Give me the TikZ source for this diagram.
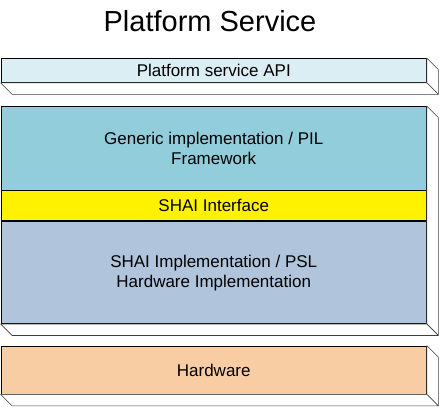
\documentclass[tikz,border=0pt]{standalone}
\usepackage{fontspec}
\setmainfont{Liberation Sans}
\usetikzlibrary{positioning}
\definecolor{apiblue}{RGB}{218,238,243}
\definecolor{genblue}{RGB}{146,205,220}
\definecolor{implblue}{RGB}{176,196,220}
\definecolor{hwpeach}{RGB}{249,205,164}
\tikzset{
  layer/.style={draw=black, line width=0.8pt, minimum width=425.5pt, inner sep=0pt,
    align=center, font=\fontsize{17}{20}\selectfont},
  side/.style={fill=white, draw=black!75, line width=0.6pt, line join=round}
}
\begin{document}
\begin{tikzpicture}[x=1pt,y=-1pt]
  \useasboundingbox (0,0) rectangle (439,407);
  %titre
  \node (title) at (210,21) {\fontsize{29}{34}\selectfont Platform Service};
  %couches
  \node[layer, fill=apiblue, minimum height=24pt] (api) at (213.75,70.5) {Platform service API};
  \node[layer, fill=genblue, minimum height=83.5pt] (gen) at (213.75,148.25) {Generic implementation / PIL\\Framework};
  \node[layer, fill=yellow, minimum height=30pt, below=0pt of gen] (shai) {SHAI Interface};
  \node[layer, fill=implblue, minimum height=102pt, below=0pt of shai] (impl) {SHAI Implementation / PSL\\Hardware Implementation};
  \node[layer, fill=hwpeach, minimum height=48pt] (hw) at (213.75,370) {Hardware};
  %faces 3D
  \foreach \t/\b in {api/api, gen/impl, hw/hw}{
    \draw[side] (\t.north east) -- ++(11.5,11.5) -- ([shift={(11.5,11.5)}]\b.south east) -- (\b.south east) -- cycle;
    \draw[side] (\b.south west) -- ++(11.5,11.5) -- ([shift={(11.5,11.5)}]\b.south east) -- (\b.south east) -- cycle;
  }
\end{tikzpicture}
\end{document}
